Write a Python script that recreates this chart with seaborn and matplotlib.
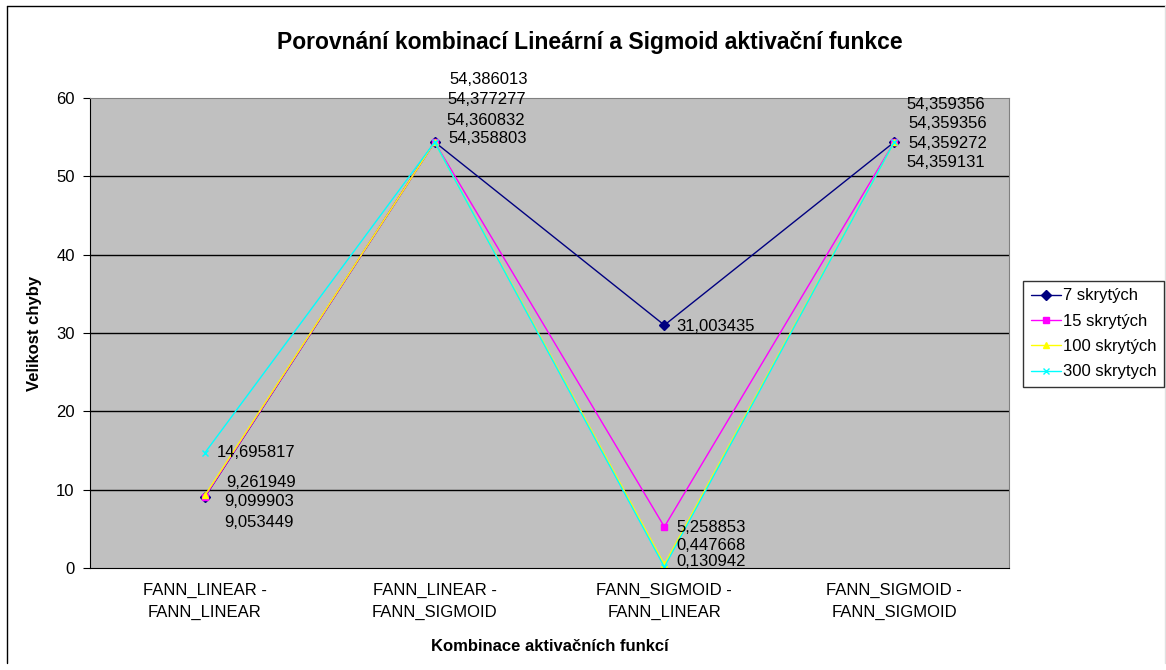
import pandas as pd
import seaborn as sns
import matplotlib.pyplot as plt
from matplotlib.lines import Line2D

categories = ['FANN_LINEAR -\nFANN_LINEAR', 'FANN_LINEAR -\nFANN_SIGMOID',
              'FANN_SIGMOID -\nFANN_LINEAR', 'FANN_SIGMOID -\nFANN_SIGMOID']
series = ['7 skrytých', '15 skrytých', '100 skrytých', '300 skrytych']

err_7 = [9.053449, 54.386013, 31.003435, 54.359356]
err_15 = [9.099903, 54.377277, 5.258853, 54.359356]
err_100 = [9.261949, 54.360832, 0.447668, 54.359272]
err_300 = [14.695817, 54.358803, 0.130942, 54.359131]

colors = {'7 skrytých': '#000080', '15 skrytých': '#FF00FF',
          '100 skrytých': '#FFFF00', '300 skrytych': '#00FFFF'}
markers = {'7 skrytých': 'D', '15 skrytých': 's',
           '100 skrytých': '^', '300 skrytych': 'x'}

# label offsets (pixels) from each point, so the labels don't pile up
offsets = {
    '7 skrytých': [(19, -25), (15, 62), (12, -1), (12, 38)],
    '15 skrytých': [(19, -5), (13, 43), (12, -1), (14, 19)],
    '100 skrytých': [(21, 13), (12, 22), (12, 19), (14, -1)],
    '300 skrytych': [(12, 0), (14, 4), (12, 5), (12, -20)],
}

rows = []
for name, vals in zip(series, [err_7, err_15, err_100, err_300]):
    for cat, v in zip(categories, vals):
        rows.append({'kombinace': cat, 'chyba': v, 'site': name})
df = pd.DataFrame(rows)

sns.set_style('white')
plt.rcParams['font.family'] = ['Liberation Sans', 'DejaVu Sans']
plt.rcParams['text.color'] = 'black'
plt.rcParams['xtick.color'] = 'black'
plt.rcParams['ytick.color'] = 'black'
plt.rcParams['axes.labelcolor'] = 'black'

fig = plt.figure(figsize=(11.66, 6.70), dpi=100)
ax = fig.add_axes([90 / 1166, 1 - 568 / 670, 919 / 1166, 470 / 670])
ax.set_facecolor('#C0C0C0')

for name in series:
    sub = df[df.site == name]
    sns.lineplot(data=sub, x='kombinace', y='chyba', color=colors[name],
                 marker=markers[name], sort=False, linewidth=1, markersize=5,
                 markeredgewidth=1, markeredgecolor=colors[name],
                 label=name, ax=ax)

for name, vals in zip(series, [err_7, err_15, err_100, err_300]):
    for i, v in enumerate(vals):
        dx, dy = offsets[name][i]
        ax.annotate(f'{v:.6f}'.replace('.', ','), xy=(i, v), xytext=(dx, dy),
                    textcoords='offset pixels', ha='left', va='center',
                    fontsize=12, color='black', annotation_clip=False)

ax.set_xlim(-0.5, 3.5)
ax.set_ylim(0, 60)
ax.set_yticks(range(0, 61, 10))
for y in range(10, 60, 10):
    ax.axhline(y, color='black', linewidth=1, zorder=0.5)
ax.set_xticks(range(4))
ax.set_xticklabels(categories, fontsize=12, linespacing=1.5)
ax.set_xticks([0.5, 1.5, 2.5], minor=True)
ax.tick_params(axis='x', which='major', length=0, pad=11)
ax.tick_params(axis='x', which='minor', length=5, direction='out', color='black')
ax.tick_params(axis='y', length=5, direction='out', left=True, pad=6,
               labelsize=12, color='black')
for s in ['left', 'bottom']:
    ax.spines[s].set_color('black')
for s in ['top', 'right']:
    ax.spines[s].set_color('#808080')

ax.set_xlabel('Kombinace aktivačních funkcí', fontsize=12, fontweight='bold', labelpad=14)
ax.set_ylabel('Velikost chyby', fontsize=12, fontweight='bold', labelpad=10)
fig.text(590 / 1166, 1 - 42 / 670, 'Porovnání kombinací Lineární a Sigmoid aktivační funkce',
         ha='center', va='center', fontsize=16.5, fontweight='bold')

ax.get_legend().remove()
handles, labels = ax.get_legend_handles_labels()
leg = fig.legend(handles, labels, loc='upper left',
                 bbox_to_anchor=(1023 / 1166, 1 - 281 / 670), fontsize=12,
                 frameon=True, fancybox=False, edgecolor='black',
                 handlelength=1.8, handletextpad=0.15, borderpad=0.45,
                 labelspacing=0.62, borderaxespad=0)
leg.get_frame().set_linewidth(1)

# chart frame: dark on the left and top, faint on the other sides
fig.add_artist(Line2D([7 / 1166, 7 / 1166], [1 - 663 / 670, 1 - 6 / 670],
                      transform=fig.transFigure, color='black', linewidth=1))
fig.add_artist(Line2D([7 / 1166, 1165 / 1166], [1 - 6 / 670, 1 - 6 / 670],
                      transform=fig.transFigure, color='black', linewidth=1))
fig.add_artist(Line2D([1165 / 1166, 1165 / 1166], [1 - 663 / 670, 1 - 6 / 670],
                      transform=fig.transFigure, color='#E0E0E0', linewidth=1))

fig.savefig('out.png', dpi=100)
